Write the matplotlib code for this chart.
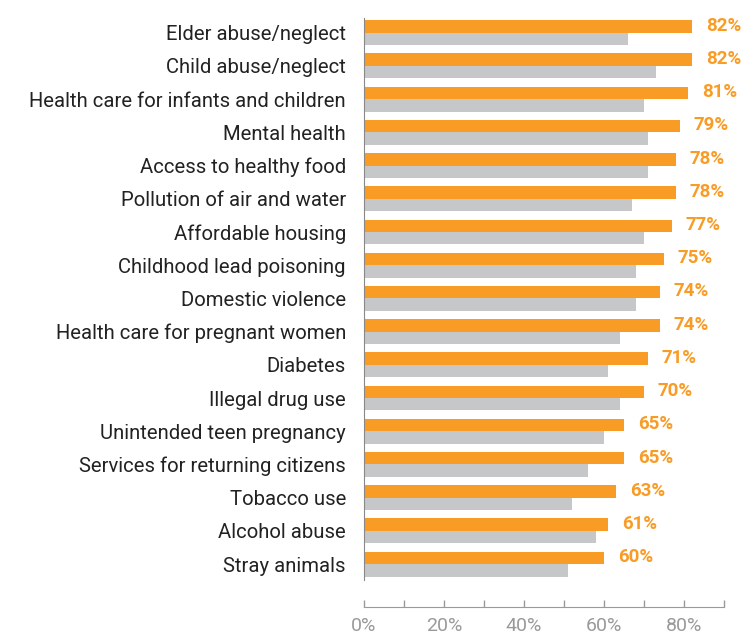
import matplotlib
matplotlib.use("Agg")
import matplotlib.pyplot as plt
import numpy as np

plt.rcParams['font.family'] = ['Roboto', 'DejaVu Sans']

# data, top to bottom
categories = [
    "Elder abuse/neglect", "Child abuse/neglect",
    "Health care for infants and children", "Mental health",
    "Access to healthy food", "Pollution of air and water",
    "Affordable housing", "Childhood lead poisoning", "Domestic violence",
    "Health care for pregnant women", "Diabetes", "Illegal drug use",
    "Unintended teen pregnancy", "Services for returning citizens",
    "Tobacco use", "Alcohol abuse", "Stray animals",
]
orange_vals = [82, 82, 81, 79, 78, 78, 77, 75, 74, 74, 71, 70, 65, 65, 63, 61, 60]
gray_vals = [66, 73, 70, 71, 71, 67, 70, 68, 68, 64, 61, 64, 60, 56, 52, 58, 51]
tick_vals = list(range(0, 100, 10))
tick_labels = ["0%", "", "20%", "", "40%", "", "60%", "", "80%", ""]

ORANGE = "#F89C26"
GRAY = "#C6C7C8"
AXIS_GRAY = "#9A9A9A"

fig = plt.figure(figsize=(7.43, 6.39), dpi=100)
ax = fig.add_axes([364 / 743, 1 - 580 / 639, 360 / 743, (580 - 18) / 639])

y = np.arange(len(categories))
h = 0.375
ax.barh(y - h / 2, orange_vals, height=h, color=ORANGE, zorder=2)
ax.barh(y + h / 2, gray_vals, height=h, color=GRAY, zorder=2)

for yi, v in zip(y, orange_vals):
    ax.annotate(f"{v}%", xy=(v, yi - h / 2), xytext=(10, 0.5),
                textcoords="offset points", va="center", ha="left",
                color=ORANGE, fontsize=13.5, fontweight="bold")

ax.set_xlim(0, 90)
ax.set_ylim(len(categories) - 1 + 0.48, -0.443)

ax.set_yticks(y)
ax.set_yticklabels(categories)
ax.tick_params(axis="y", length=0, pad=13, labelsize=14.6, labelcolor="#222222")

ax.set_xticks(tick_vals)
ax.set_xticklabels(tick_labels)
ax.tick_params(axis="x", direction="in", length=5, width=1, color=AXIS_GRAY,
               pad=7, labelsize=14, labelcolor=AXIS_GRAY)

for s in ["top", "right"]:
    ax.spines[s].set_visible(False)
ax.spines["left"].set_color("#888888")
ax.spines["bottom"].set_color(AXIS_GRAY)
ax.spines["bottom"].set_position(("outward", 19.5))
ax.spines["bottom"].set_bounds(0, 90)

fig.savefig("out.png", dpi=100)
